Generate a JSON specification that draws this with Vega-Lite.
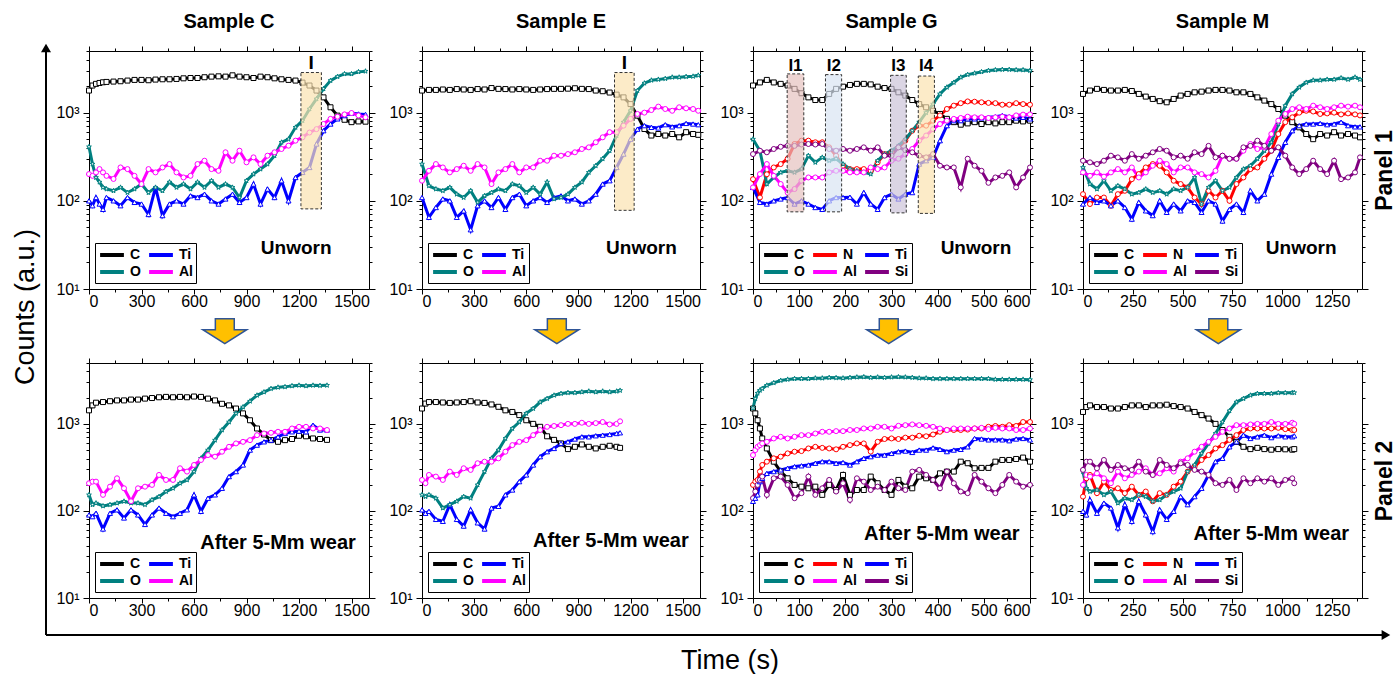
{
"$schema": "https://vega.github.io/schema/vega-lite/v6.json",
"background": "white",
"padding": {"left": 12, "top": 12, "right": 0, "bottom": 0},
"config": {
 "font": "Liberation Sans",
 "view": {"stroke": null},
 "axis": {"domainColor": "#000", "tickColor": "#000", "labelColor": "#000", "labelFontSize": 16, "labelFont": "Liberation Sans", "labelPadding": 4, "labelOverlap": false, "grid": false, "titleColor": "#000", "titleFont": "Liberation Sans", "domainWidth": 1, "tickWidth": 1},
 "axisBottom": {"labelPadding": -1},
 "legend": {"fillColor": "white", "strokeColor": "black", "padding": 3, "labelFontSize": 14, "labelFontWeight": "bold", "labelFont": "Liberation Sans", "labelColor": "#000", "labelOffset": 9, "columnPadding": 0, "rowPadding": 0, "symbolStrokeWidth": 4, "symbolOffset": 5},
 "title": {"fontSize": 20, "fontWeight": "bold", "font": "Liberation Sans", "color": "#000", "offset": 11, "anchor": "middle", "frame": "group"}
},
"datasets": {
"C1": [
{"t":0,"C":1780,"Ti":100,"O":410,"Al":201},{"t":20,"C":2030,"Ti":88,"O":261,"Al":192},{"t":40,"C":2120,"Ti":109,"O":184,"Al":210},{"t":60,"C":2170,"Ti":92,"O":163,"Al":229},{"t":80,"C":2210,"Ti":80,"O":142,"Al":210},{"t":100,"C":2230,"Ti":109,"O":136,"Al":192},{"t":140,"C":2250,"Ti":100,"O":130,"Al":177},{"t":180,"C":2270,"Ti":88,"O":142,"Al":239},{"t":220,"C":2310,"Ti":109,"O":124,"Al":229},{"t":260,"C":2350,"Ti":96,"O":136,"Al":192},{"t":300,"C":2350,"Ti":92,"O":155,"Al":155},{"t":340,"C":2330,"Ti":70,"O":124,"Al":229},{"t":380,"C":2370,"Ti":142,"O":142,"Al":210},{"t":420,"C":2390,"Ti":68,"O":130,"Al":239},{"t":460,"C":2390,"Ti":92,"O":163,"Al":261},{"t":500,"C":2410,"Ti":100,"O":142,"Al":210},{"t":540,"C":2450,"Ti":92,"O":155,"Al":184},{"t":580,"C":2470,"Ti":114,"O":136,"Al":192},{"t":620,"C":2470,"Ti":109,"O":163,"Al":261},{"t":660,"C":2520,"Ti":119,"O":142,"Al":285},{"t":700,"C":2560,"Ti":100,"O":169,"Al":229},{"t":740,"C":2580,"Ti":92,"O":142,"Al":219},{"t":780,"C":2560,"Ti":105,"O":155,"Al":355},{"t":820,"C":2650,"Ti":119,"O":142,"Al":285},{"t":860,"C":2560,"Ti":96,"O":109,"Al":370},{"t":900,"C":2520,"Ti":109,"O":169,"Al":273},{"t":940,"C":2470,"Ti":155,"O":201,"Al":311},{"t":980,"C":2560,"Ti":92,"O":229,"Al":261},{"t":1020,"C":2520,"Ti":136,"O":261,"Al":325},{"t":1060,"C":2450,"Ti":109,"O":325,"Al":355},{"t":1100,"C":2390,"Ti":169,"O":461,"Al":387},{"t":1140,"C":2350,"Ti":100,"O":500,"Al":422},{"t":1180,"C":2310,"Ti":184,"O":681,"Al":481},{"t":1220,"C":2190,"Ti":210,"O":811,"Al":525},{"t":1260,"C":2030,"Ti":239,"O":1100,"Al":595},{"t":1300,"C":1780,"Ti":441,"O":1430,"Al":650},{"t":1340,"C":1490,"Ti":624,"O":1860,"Al":743},{"t":1380,"C":1150,"Ti":743,"O":2310,"Al":850},{"t":1420,"C":925,"Ti":850,"O":2560,"Al":900},{"t":1460,"C":830,"Ti":925,"O":2750,"Al":955},{"t":1500,"C":780,"Ti":990,"O":2750,"Al":990},{"t":1540,"C":795,"Ti":966,"O":2900,"Al":930},{"t":1580,"C":790,"Ti":955,"O":2950,"Al":885}
],
"E1": [
{"t":0,"C":1780,"Ti":109,"O":261,"Al":169},{"t":40,"C":1810,"Ti":65,"O":148,"Al":219},{"t":80,"C":1810,"Ti":84,"O":136,"Al":261},{"t":120,"C":1830,"Ti":105,"O":130,"Al":239},{"t":160,"C":1810,"Ti":100,"O":142,"Al":210},{"t":200,"C":1850,"Ti":65,"O":119,"Al":229},{"t":240,"C":1830,"Ti":77,"O":109,"Al":250},{"t":280,"C":1810,"Ti":47,"O":130,"Al":219},{"t":320,"C":1850,"Ti":88,"O":96,"Al":261},{"t":360,"C":1830,"Ti":100,"O":114,"Al":239},{"t":400,"C":1900,"Ti":84,"O":124,"Al":155},{"t":440,"C":1860,"Ti":109,"O":136,"Al":210},{"t":480,"C":1850,"Ti":80,"O":130,"Al":229},{"t":520,"C":1830,"Ti":109,"O":155,"Al":261},{"t":560,"C":1850,"Ti":119,"O":148,"Al":210},{"t":600,"C":1830,"Ti":88,"O":124,"Al":239},{"t":640,"C":1810,"Ti":100,"O":142,"Al":239},{"t":680,"C":1830,"Ti":109,"O":119,"Al":285},{"t":720,"C":1850,"Ti":96,"O":163,"Al":285},{"t":760,"C":1860,"Ti":109,"O":105,"Al":325},{"t":800,"C":1860,"Ti":114,"O":109,"Al":325},{"t":840,"C":1870,"Ti":100,"O":119,"Al":339},{"t":880,"C":1890,"Ti":105,"O":142,"Al":355},{"t":920,"C":1860,"Ti":92,"O":163,"Al":387},{"t":960,"C":1850,"Ti":100,"O":210,"Al":404},{"t":1000,"C":1780,"Ti":119,"O":250,"Al":461},{"t":1040,"C":1750,"Ti":155,"O":300,"Al":525},{"t":1080,"C":1690,"Ti":169,"O":370,"Al":600},{"t":1120,"C":1600,"Ti":239,"O":550,"Al":600},{"t":1160,"C":1490,"Ti":339,"O":780,"Al":712},{"t":1200,"C":1250,"Ti":500,"O":1050,"Al":850},{"t":1240,"C":925,"Ti":650,"O":1780,"Al":966},{"t":1280,"C":652,"Ti":712,"O":2160,"Al":1000},{"t":1320,"C":550,"Ti":681,"O":2330,"Al":1070},{"t":1360,"C":572,"Ti":670,"O":2380,"Al":1170},{"t":1400,"C":550,"Ti":730,"O":2430,"Al":1100},{"t":1440,"C":572,"Ti":690,"O":2520,"Al":1050},{"t":1480,"C":525,"Ti":712,"O":2520,"Al":1150},{"t":1520,"C":600,"Ti":755,"O":2560,"Al":1120},{"t":1560,"C":572,"Ti":743,"O":2580,"Al":1100},{"t":1590,"C":560,"Ti":730,"O":2650,"Al":1050}
],
"G1": [
{"t":0,"C":2030,"N":176,"Ti":142,"O":500,"Al":142,"Si":339},{"t":15,"C":2200,"N":109,"Ti":96,"O":370,"Al":201,"Si":370},{"t":30,"C":2350,"N":200,"Ti":92,"O":155,"Al":261,"Si":355},{"t":45,"C":2200,"N":239,"Ti":100,"O":184,"Al":192,"Si":387},{"t":60,"C":2120,"N":261,"Ti":105,"O":210,"Al":155,"Si":410},{"t":75,"C":2030,"N":300,"Ti":109,"O":219,"Al":124,"Si":420},{"t":90,"C":1860,"N":441,"Ti":92,"O":210,"Al":136,"Si":420},{"t":105,"C":1660,"N":481,"Ti":100,"O":229,"Al":169,"Si":435},{"t":120,"C":1490,"N":481,"Ti":92,"O":325,"Al":184,"Si":441},{"t":135,"C":1390,"N":461,"Ti":84,"O":273,"Al":184,"Si":435},{"t":150,"C":1390,"N":461,"Ti":80,"O":311,"Al":184,"Si":441},{"t":165,"C":1630,"N":404,"Ti":100,"O":285,"Al":210,"Si":387},{"t":180,"C":1860,"N":325,"Ti":109,"O":300,"Al":219,"Si":370},{"t":195,"C":1970,"N":250,"Ti":109,"O":261,"Al":219,"Si":387},{"t":210,"C":2060,"N":229,"Ti":110,"O":229,"Al":210,"Si":370},{"t":225,"C":2120,"N":229,"Ti":92,"O":219,"Al":210,"Si":387},{"t":240,"C":2120,"N":229,"Ti":124,"O":210,"Al":210,"Si":404},{"t":255,"C":2090,"N":219,"Ti":92,"O":201,"Al":239,"Si":370},{"t":270,"C":1970,"N":273,"Ti":80,"O":285,"Al":229,"Si":404},{"t":285,"C":1900,"N":339,"Ti":109,"O":339,"Al":239,"Si":325},{"t":300,"C":1860,"N":355,"Ti":119,"O":370,"Al":285,"Si":325},{"t":315,"C":1700,"N":404,"Ti":105,"O":420,"Al":300,"Si":404},{"t":330,"C":1560,"N":481,"Ti":119,"O":500,"Al":339,"Si":375},{"t":345,"C":1390,"N":624,"Ti":124,"O":624,"Al":387,"Si":355},{"t":360,"C":1250,"N":712,"Ti":261,"O":780,"Al":481,"Si":325},{"t":375,"C":1150,"N":712,"Ti":285,"O":1000,"Al":550,"Si":311},{"t":390,"C":1050,"N":811,"Ti":311,"O":1250,"Al":650,"Si":339},{"t":405,"C":966,"N":930,"Ti":481,"O":1630,"Al":743,"Si":250},{"t":420,"C":850,"N":1100,"Ti":712,"O":1940,"Al":811,"Si":239},{"t":435,"C":780,"N":1200,"Ti":811,"O":2200,"Al":850,"Si":239},{"t":450,"C":730,"N":1280,"Ti":811,"O":2520,"Al":870,"Si":142},{"t":465,"C":755,"N":1340,"Ti":850,"O":2700,"Al":900,"Si":300},{"t":480,"C":780,"N":1330,"Ti":850,"O":2800,"Al":885,"Si":250},{"t":495,"C":743,"N":1310,"Ti":870,"O":2900,"Al":885,"Si":219},{"t":510,"C":780,"N":1290,"Ti":885,"O":3000,"Al":870,"Si":160},{"t":525,"C":755,"N":1280,"Ti":900,"O":3050,"Al":885,"Si":184},{"t":540,"C":780,"N":1230,"Ti":930,"O":3080,"Al":900,"Si":192},{"t":555,"C":780,"N":1230,"Ti":900,"O":3080,"Al":885,"Si":210},{"t":570,"C":811,"N":1280,"Ti":870,"O":3050,"Al":930,"Si":142},{"t":585,"C":795,"N":1250,"Ti":885,"O":3050,"Al":950,"Si":184},{"t":600,"C":811,"N":1230,"Ti":850,"O":3000,"Al":955,"Si":239}
],
"M1": [
{"t":0,"C":1630,"N":119,"Ti":92,"O":239,"Al":210,"Si":285},{"t":35,"C":1780,"N":92,"Ti":109,"O":155,"Al":192,"Si":273},{"t":70,"C":1860,"N":109,"Ti":96,"O":136,"Al":210,"Si":261},{"t":105,"C":1810,"N":109,"Ti":100,"O":169,"Al":188,"Si":285},{"t":140,"C":1780,"N":88,"Ti":88,"O":130,"Al":210,"Si":325},{"t":175,"C":1780,"N":119,"Ti":100,"O":148,"Al":229,"Si":311},{"t":210,"C":1810,"N":130,"Ti":84,"O":136,"Al":210,"Si":285},{"t":245,"C":1760,"N":176,"Ti":62,"O":119,"Al":239,"Si":339},{"t":280,"C":1630,"N":201,"Ti":96,"O":124,"Al":184,"Si":300},{"t":315,"C":1520,"N":239,"Ti":77,"O":136,"Al":210,"Si":325},{"t":350,"C":1430,"N":261,"Ti":68,"O":124,"Al":250,"Si":355},{"t":385,"C":1350,"N":250,"Ti":100,"O":130,"Al":285,"Si":387},{"t":420,"C":1310,"N":210,"Ti":74,"O":119,"Al":261,"Si":370},{"t":455,"C":1430,"N":169,"Ti":92,"O":136,"Al":210,"Si":311},{"t":490,"C":1560,"N":155,"Ti":77,"O":130,"Al":239,"Si":325},{"t":525,"C":1630,"N":142,"Ti":100,"O":142,"Al":239,"Si":300},{"t":560,"C":1700,"N":109,"Ti":96,"O":184,"Al":210,"Si":355},{"t":595,"C":1730,"N":92,"Ti":74,"O":92,"Al":201,"Si":339},{"t":630,"C":1780,"N":130,"Ti":100,"O":142,"Al":184,"Si":420},{"t":665,"C":1810,"N":109,"Ti":92,"O":169,"Al":219,"Si":311},{"t":700,"C":1810,"N":130,"Ti":59,"O":130,"Al":325,"Si":325},{"t":735,"C":1780,"N":100,"Ti":80,"O":142,"Al":300,"Si":300},{"t":770,"C":1700,"N":155,"Ti":92,"O":184,"Al":300,"Si":300},{"t":805,"C":1700,"N":184,"Ti":74,"O":229,"Al":370,"Si":404},{"t":840,"C":1630,"N":229,"Ti":130,"O":250,"Al":441,"Si":420},{"t":875,"C":1490,"N":239,"Ti":100,"O":300,"Al":387,"Si":481},{"t":910,"C":1370,"N":300,"Ti":119,"O":370,"Al":404,"Si":420},{"t":945,"C":1250,"N":370,"Ti":201,"O":461,"Al":572,"Si":370},{"t":980,"C":1100,"N":572,"Ti":311,"O":743,"Al":811,"Si":404},{"t":1015,"C":925,"N":780,"Ti":461,"O":1200,"Al":966,"Si":325},{"t":1050,"C":780,"N":885,"Ti":624,"O":1630,"Al":1100,"Si":239},{"t":1085,"C":681,"N":1000,"Ti":712,"O":1940,"Al":1150,"Si":201},{"t":1120,"C":572,"N":1050,"Ti":743,"O":2200,"Al":1100,"Si":229},{"t":1155,"C":500,"N":1030,"Ti":743,"O":2330,"Al":1200,"Si":285},{"t":1190,"C":572,"N":966,"Ti":755,"O":2330,"Al":1150,"Si":229},{"t":1225,"C":550,"N":980,"Ti":730,"O":2380,"Al":1100,"Si":201},{"t":1260,"C":600,"N":1000,"Ti":743,"O":2380,"Al":1150,"Si":285},{"t":1295,"C":550,"N":955,"Ti":780,"O":2470,"Al":1200,"Si":176},{"t":1330,"C":572,"N":980,"Ti":712,"O":2380,"Al":1170,"Si":184},{"t":1365,"C":550,"N":955,"Ti":690,"O":2520,"Al":1200,"Si":210},{"t":1390,"C":525,"N":930,"Ti":690,"O":2380,"Al":1150,"Si":311}
],
"C2": [
{"t":0,"C":1430,"Ti":90,"O":153,"Al":208},{"t":20,"C":1630,"Ti":86,"O":118,"Al":217},{"t":40,"C":1750,"Ti":94,"O":123,"Al":217},{"t":80,"C":1780,"Ti":62,"O":114,"Al":153},{"t":120,"C":1820,"Ti":94,"O":118,"Al":190},{"t":160,"C":1860,"Ti":103,"O":123,"Al":237},{"t":200,"C":1860,"Ti":83,"O":129,"Al":182},{"t":240,"C":1900,"Ti":103,"O":123,"Al":129},{"t":280,"C":1900,"Ti":90,"O":123,"Al":182},{"t":320,"C":1950,"Ti":70,"O":118,"Al":190},{"t":360,"C":1980,"Ti":90,"O":134,"Al":199},{"t":400,"C":2020,"Ti":108,"O":146,"Al":259},{"t":440,"C":2040,"Ti":94,"O":167,"Al":227},{"t":480,"C":2020,"Ti":86,"O":182,"Al":227},{"t":520,"C":2040,"Ti":94,"O":208,"Al":309},{"t":560,"C":2020,"Ti":103,"O":227,"Al":283},{"t":600,"C":2060,"Ti":153,"O":283,"Al":337},{"t":640,"C":2040,"Ti":99,"O":402,"Al":385},{"t":680,"C":1950,"Ti":140,"O":500,"Al":438},{"t":720,"C":1860,"Ti":153,"O":650,"Al":420},{"t":760,"C":1700,"Ti":182,"O":850,"Al":479},{"t":800,"C":1630,"Ti":248,"O":1050,"Al":545},{"t":840,"C":1500,"Ti":283,"O":1320,"Al":596},{"t":880,"C":1320,"Ti":337,"O":1560,"Al":622},{"t":920,"C":1100,"Ti":500,"O":1820,"Al":650},{"t":960,"C":885,"Ti":570,"O":2130,"Al":742},{"t":1000,"C":755,"Ti":622,"O":2320,"Al":775},{"t":1040,"C":650,"Ti":650,"O":2540,"Al":790},{"t":1080,"C":622,"Ti":710,"O":2630,"Al":811},{"t":1120,"C":650,"Ti":775,"O":2660,"Al":811},{"t":1160,"C":670,"Ti":811,"O":2730,"Al":885},{"t":1200,"C":730,"Ti":825,"O":2770,"Al":925},{"t":1240,"C":720,"Ti":811,"O":2730,"Al":925},{"t":1280,"C":680,"Ti":966,"O":2770,"Al":885},{"t":1320,"C":670,"Ti":850,"O":2750,"Al":885},{"t":1360,"C":655,"Ti":850,"O":2770,"Al":850}
],
"E2": [
{"t":0,"C":1500,"Ti":103,"O":153,"Al":227},{"t":20,"C":1710,"Ti":94,"O":146,"Al":208},{"t":40,"C":1780,"Ti":99,"O":153,"Al":259},{"t":80,"C":1780,"Ti":80,"O":140,"Al":248},{"t":120,"C":1760,"Ti":76,"O":108,"Al":227},{"t":160,"C":1740,"Ti":118,"O":118,"Al":283},{"t":200,"C":1760,"Ti":80,"O":129,"Al":259},{"t":240,"C":1780,"Ti":67,"O":146,"Al":309},{"t":280,"C":1820,"Ti":103,"O":140,"Al":296},{"t":320,"C":1760,"Ti":73,"O":199,"Al":353},{"t":360,"C":1740,"Ti":62,"O":283,"Al":368},{"t":400,"C":1670,"Ti":108,"O":402,"Al":368},{"t":440,"C":1570,"Ti":113,"O":500,"Al":402},{"t":480,"C":1430,"Ti":153,"O":680,"Al":479},{"t":520,"C":1370,"Ti":174,"O":885,"Al":570},{"t":560,"C":1260,"Ti":217,"O":1050,"Al":622},{"t":600,"C":1100,"Ti":259,"O":1320,"Al":650},{"t":640,"C":1000,"Ti":337,"O":1500,"Al":742},{"t":680,"C":925,"Ti":420,"O":1780,"Al":850},{"t":720,"C":720,"Ti":479,"O":1950,"Al":925},{"t":760,"C":655,"Ti":522,"O":2130,"Al":945},{"t":800,"C":596,"Ti":596,"O":2230,"Al":966},{"t":840,"C":513,"Ti":622,"O":2280,"Al":1000},{"t":880,"C":545,"Ti":670,"O":2280,"Al":1000},{"t":920,"C":580,"Ti":710,"O":2320,"Al":1030},{"t":960,"C":545,"Ti":710,"O":2370,"Al":1000},{"t":1000,"C":522,"Ti":730,"O":2320,"Al":1020},{"t":1040,"C":545,"Ti":742,"O":2370,"Al":1050},{"t":1080,"C":560,"Ti":755,"O":2320,"Al":985},{"t":1120,"C":545,"Ti":775,"O":2370,"Al":1000},{"t":1140,"C":530,"Ti":790,"O":2420,"Al":1070}
],
"G2": [
{"t":0,"C":1500,"N":199,"Ti":129,"O":1520,"Al":438,"Si":140},{"t":5,"C":1320,"N":217,"Ti":140,"O":1950,"Al":500,"Si":167},{"t":10,"C":1100,"N":227,"Ti":153,"O":2250,"Al":545,"Si":199},{"t":15,"C":885,"N":283,"Ti":217,"O":2430,"Al":570,"Si":227},{"t":20,"C":680,"N":337,"Ti":237,"O":2540,"Al":596,"Si":248},{"t":30,"C":522,"N":368,"Ti":270,"O":2770,"Al":622,"Si":153},{"t":45,"C":368,"N":402,"Ti":283,"O":2960,"Al":680,"Si":237},{"t":60,"C":283,"N":420,"Ti":296,"O":3150,"Al":710,"Si":248},{"t":75,"C":237,"N":458,"Ti":309,"O":3240,"Al":680,"Si":199},{"t":90,"C":199,"N":479,"Ti":323,"O":3300,"Al":710,"Si":140},{"t":105,"C":190,"N":487,"Ti":330,"O":3300,"Al":742,"Si":160},{"t":120,"C":182,"N":522,"Ti":337,"O":3300,"Al":742,"Si":248},{"t":135,"C":190,"N":545,"Ti":353,"O":3350,"Al":775,"Si":153},{"t":150,"C":153,"N":530,"Ti":368,"O":3350,"Al":811,"Si":182},{"t":165,"C":199,"N":522,"Ti":368,"O":3400,"Al":811,"Si":227},{"t":180,"C":174,"N":510,"Ti":353,"O":3380,"Al":825,"Si":167},{"t":195,"C":259,"N":545,"Ti":360,"O":3350,"Al":825,"Si":208},{"t":210,"C":153,"N":570,"Ti":337,"O":3400,"Al":850,"Si":134},{"t":225,"C":174,"N":596,"Ti":368,"O":3440,"Al":850,"Si":237},{"t":240,"C":174,"N":596,"Ti":402,"O":3460,"Al":885,"Si":217},{"t":255,"C":248,"N":480,"Ti":420,"O":3400,"Al":885,"Si":174},{"t":270,"C":208,"N":622,"Ti":438,"O":3440,"Al":925,"Si":190},{"t":285,"C":174,"N":670,"Ti":438,"O":3400,"Al":925,"Si":174},{"t":300,"C":153,"N":680,"Ti":458,"O":3440,"Al":885,"Si":217},{"t":315,"C":227,"N":670,"Ti":479,"O":3460,"Al":950,"Si":182},{"t":330,"C":190,"N":695,"Ti":487,"O":3440,"Al":966,"Si":174},{"t":345,"C":182,"N":695,"Ti":470,"O":3400,"Al":985,"Si":283},{"t":360,"C":248,"N":730,"Ti":500,"O":3350,"Al":966,"Si":296},{"t":375,"C":237,"N":720,"Ti":500,"O":3350,"Al":950,"Si":259},{"t":390,"C":227,"N":755,"Ti":530,"O":3300,"Al":925,"Si":227},{"t":405,"C":270,"N":811,"Ti":510,"O":3300,"Al":885,"Si":182},{"t":420,"C":283,"N":850,"Ti":480,"O":3300,"Al":850,"Si":283},{"t":435,"C":283,"N":850,"Ti":500,"O":3300,"Al":885,"Si":208},{"t":450,"C":368,"N":850,"Ti":510,"O":3300,"Al":885,"Si":167},{"t":465,"C":353,"N":860,"Ti":545,"O":3300,"Al":885,"Si":160},{"t":480,"C":309,"N":885,"Ti":680,"O":3300,"Al":885,"Si":259},{"t":495,"C":312,"N":885,"Ti":670,"O":3300,"Al":900,"Si":217},{"t":510,"C":312,"N":925,"Ti":655,"O":3300,"Al":870,"Si":182},{"t":525,"C":368,"N":945,"Ti":655,"O":3240,"Al":900,"Si":160},{"t":540,"C":385,"N":925,"Ti":655,"O":3240,"Al":885,"Si":199},{"t":555,"C":385,"N":966,"Ti":640,"O":3240,"Al":885,"Si":259},{"t":570,"C":395,"N":945,"Ti":670,"O":3240,"Al":850,"Si":217},{"t":585,"C":410,"N":1050,"Ti":680,"O":3240,"Al":850,"Si":190},{"t":600,"C":368,"N":1050,"Ti":655,"O":3220,"Al":885,"Si":199}
],
"M2": [
{"t":0,"C":1370,"N":146,"Ti":99,"O":283,"Al":199,"Si":296},{"t":17,"C":1560,"N":237,"Ti":90,"O":182,"Al":259,"Si":368},{"t":35,"C":1630,"N":259,"Ti":134,"O":167,"Al":248,"Si":368},{"t":70,"C":1560,"N":160,"Ti":94,"O":174,"Al":270,"Si":309},{"t":105,"C":1560,"N":217,"Ti":123,"O":153,"Al":237,"Si":385},{"t":140,"C":1500,"N":174,"Ti":108,"O":167,"Al":208,"Si":296},{"t":175,"C":1500,"N":182,"Ti":64,"O":123,"Al":283,"Si":337},{"t":210,"C":1560,"N":160,"Ti":118,"O":140,"Al":237,"Si":309},{"t":245,"C":1630,"N":190,"Ti":76,"O":134,"Al":259,"Si":296},{"t":280,"C":1630,"N":153,"Ti":129,"O":153,"Al":283,"Si":368},{"t":315,"C":1560,"N":167,"Ti":90,"O":146,"Al":309,"Si":283},{"t":350,"C":1630,"N":129,"Ti":58,"O":129,"Al":259,"Si":259},{"t":385,"C":1630,"N":160,"Ti":103,"O":134,"Al":270,"Si":385},{"t":420,"C":1660,"N":153,"Ti":80,"O":153,"Al":309,"Si":337},{"t":455,"C":1600,"N":190,"Ti":99,"O":167,"Al":283,"Si":309},{"t":490,"C":1560,"N":217,"Ti":146,"O":182,"Al":368,"Si":353},{"t":525,"C":1500,"N":283,"Ti":118,"O":283,"Al":402,"Si":337},{"t":560,"C":1370,"N":323,"Ti":146,"O":337,"Al":479,"Si":296},{"t":595,"C":1260,"N":385,"Ti":182,"O":458,"Al":545,"Si":283},{"t":630,"C":1150,"N":438,"Ti":259,"O":596,"Al":622,"Si":259},{"t":665,"C":1000,"N":522,"Ti":368,"O":775,"Al":710,"Si":208},{"t":700,"C":850,"N":570,"Ti":402,"O":1050,"Al":811,"Si":199},{"t":735,"C":710,"N":655,"Ti":545,"O":1410,"Al":885,"Si":227},{"t":770,"C":622,"N":742,"Ti":622,"O":1780,"Al":966,"Si":174},{"t":805,"C":545,"N":850,"Ti":742,"O":1950,"Al":966,"Si":237},{"t":840,"C":513,"N":885,"Ti":680,"O":2130,"Al":985,"Si":208},{"t":875,"C":530,"N":885,"Ti":710,"O":2230,"Al":1000,"Si":237},{"t":910,"C":513,"N":885,"Ti":742,"O":2230,"Al":1000,"Si":217},{"t":945,"C":505,"N":885,"Ti":695,"O":2230,"Al":1050,"Si":237},{"t":980,"C":513,"N":900,"Ti":730,"O":2270,"Al":1000,"Si":199},{"t":1015,"C":510,"N":870,"Ti":710,"O":2270,"Al":1000,"Si":227},{"t":1050,"C":505,"N":850,"Ti":710,"O":2280,"Al":1030,"Si":237},{"t":1060,"C":513,"N":850,"Ti":730,"O":2280,"Al":1000,"Si":208}
]
},
"columns": 4,
"spacing": {"row": 74, "column": 53},
"bounds": "flush",
"align": "each",
"resolve": {"scale": {"x": "independent", "y": "independent", "color": "independent", "fill": "independent", "shape": "independent"}, "axis": {"x": "independent", "y": "independent"}, "legend": {"color": "independent"}},
"concat": [
{
"width": 280, "height": 238,
"title": {"text": "Sample C"},
"resolve": {"axis": {"x": "independent", "y": "independent"}},
"layer": [
{"data": {"name": "C1"}, "transform": [{"fold": ["C","Ti","O","Al"], "as": ["el","val"]}],
 "mark": {"type": "line", "strokeWidth": 3},
 "encoding": {
  "x": {"field": "t", "type": "quantitative", "scale": {"domain": [0,1600], "nice": false, "zero": false}, "axis": {"orient": "bottom", "values": [0,150,300,450,600,750,900,1050,1200,1350,1500], "format": "d", "labelExpr": "datum.value % 300 == 0 ? datum.label : ''", "tickSize": {"condition": {"test": "datum.value % 300 == 0", "value": 5}, "value": 3}, "title": null}},
  "y": {"field": "val", "type": "quantitative", "scale": {"type": "log", "domain": [10,5000], "nice": false}, "axis": {"orient": "left", "values": [10,20,30,40,50,60,70,80,90,100,200,300,400,500,600,700,800,900,1000,2000,3000,4000,5000], "labelExpr": "datum.value == 10 ? '10¹' : datum.value == 100 ? '10²' : datum.value == 1000 ? '10³' : ''", "tickSize": {"condition": {"test": "datum.value == 10 || datum.value == 100 || datum.value == 1000", "value": 6}, "value": 3}, "minExtent": 30, "title": null}},
  "color": {"field": "el", "type": "nominal", "scale": {"domain": ["C","O","Ti","Al"], "range": ["#000000","#008080","#0000ff","#ff00ff"]}, "legend": {"title": null, "orient": "bottom-left", "columns": 2, "offset": 6, "symbolType": "M-1.7,0L1.7,0", "symbolStrokeWidth": 4, "symbolSize": 196, "symbolOffset": 5}}
 }},
{"data": {"name": "C1"}, "transform": [{"fold": ["C","Ti","O","Al"], "as": ["el","val"]}],
 "mark": {"type": "point", "filled": false, "fill": "white", "size": 25, "strokeWidth": 1, "opacity": 1},
 "encoding": {
  "x": {"field": "t", "type": "quantitative", "scale": {"domain": [0,1600], "nice": false, "zero": false}, "axis": {"orient": "top", "values": [0,150,300,450,600,750,900,1050,1200,1350,1500], "labels": false, "tickSize": {"condition": {"test": "datum.value % 300 == 0", "value": 5}, "value": 3}, "title": null}},
  "y": {"field": "val", "type": "quantitative", "scale": {"type": "log", "domain": [10,5000], "nice": false}, "axis": {"orient": "right", "values": [10,20,30,40,50,60,70,80,90,100,200,300,400,500,600,700,800,900,1000,2000,3000,4000,5000], "labels": false, "tickSize": {"condition": {"test": "datum.value == 10 || datum.value == 100 || datum.value == 1000", "value": 6}, "value": 3}, "minExtent": 0, "title": null}},
  "color": {"field": "el", "type": "nominal", "scale": {"domain": ["C","O","Ti","Al"], "range": ["#000000","#008080","#0000ff","#ff00ff"]}, "legend": {"title": null, "orient": "bottom-left", "columns": 2, "offset": 6, "symbolType": "M-1.7,0L1.7,0", "symbolStrokeWidth": 4, "symbolSize": 196, "symbolOffset": 5}},
  "shape": {"field": "el", "type": "nominal", "scale": {"domain": ["C","N","Ti","O","Al","Si"], "range": ["square","circle","triangle-up","M0,-1L0.2245,-0.309L0.951,-0.309L0.363,0.118L0.588,0.809L0,0.382L-0.588,0.809L-0.363,0.118L-0.951,-0.309L-0.2245,-0.309Z","circle","circle"]}, "legend": null}
 }},
{"data": {"values": [{"t1": 1211, "t2": 1328, "v1": 81, "v2": 2850}]},
 "mark": {"type": "rect", "fill": "#fbe2b0", "fillOpacity": 0.7, "stroke": "#333333", "strokeDash": [3,2], "strokeWidth": 1},
 "encoding": {"x": {"field": "t1", "type": "quantitative", "scale": {"domain": [0,1600], "nice": false, "zero": false}, "axis": null}, "x2": {"field": "t2"}, "y": {"field": "v1", "type": "quantitative", "scale": {"type": "log", "domain": [10,5000], "nice": false}, "axis": null}, "y2": {"field": "v2"}}},
{"data": {"values": [{"t": 1270, "v": 3700, "lab": "I"}, {"t": 1184, "v": 29, "lab": "Unworn"}]},
 "mark": {"type": "text", "fontSize": 19, "fontWeight": "bold", "color": "#000"},
 "encoding": {"x": {"field": "t", "type": "quantitative", "scale": {"domain": [0,1600], "nice": false, "zero": false}, "axis": null}, "y": {"field": "v", "type": "quantitative", "scale": {"type": "log", "domain": [10,5000], "nice": false}, "axis": null}, "text": {"field": "lab"}}}
]
},
{
"width": 278, "height": 238,
"title": {"text": "Sample E"},
"resolve": {"axis": {"x": "independent", "y": "independent"}},
"layer": [
{"data": {"name": "E1"}, "transform": [{"fold": ["C","Ti","O","Al"], "as": ["el","val"]}],
 "mark": {"type": "line", "strokeWidth": 3},
 "encoding": {
  "x": {"field": "t", "type": "quantitative", "scale": {"domain": [0,1600], "nice": false, "zero": false}, "axis": {"orient": "bottom", "values": [0,150,300,450,600,750,900,1050,1200,1350,1500], "format": "d", "labelExpr": "datum.value % 300 == 0 ? datum.label : ''", "tickSize": {"condition": {"test": "datum.value % 300 == 0", "value": 5}, "value": 3}, "title": null}},
  "y": {"field": "val", "type": "quantitative", "scale": {"type": "log", "domain": [10,5000], "nice": false}, "axis": {"orient": "left", "values": [10,20,30,40,50,60,70,80,90,100,200,300,400,500,600,700,800,900,1000,2000,3000,4000,5000], "labelExpr": "datum.value == 10 ? '10¹' : datum.value == 100 ? '10²' : datum.value == 1000 ? '10³' : ''", "tickSize": {"condition": {"test": "datum.value == 10 || datum.value == 100 || datum.value == 1000", "value": 6}, "value": 3}, "minExtent": 30, "title": null}},
  "color": {"field": "el", "type": "nominal", "scale": {"domain": ["C","O","Ti","Al"], "range": ["#000000","#008080","#0000ff","#ff00ff"]}, "legend": {"title": null, "orient": "bottom-left", "columns": 2, "offset": 6, "symbolType": "M-1.7,0L1.7,0", "symbolStrokeWidth": 4, "symbolSize": 196, "symbolOffset": 5}}
 }},
{"data": {"name": "E1"}, "transform": [{"fold": ["C","Ti","O","Al"], "as": ["el","val"]}],
 "mark": {"type": "point", "filled": false, "fill": "white", "size": 25, "strokeWidth": 1, "opacity": 1},
 "encoding": {
  "x": {"field": "t", "type": "quantitative", "scale": {"domain": [0,1600], "nice": false, "zero": false}, "axis": {"orient": "top", "values": [0,150,300,450,600,750,900,1050,1200,1350,1500], "labels": false, "tickSize": {"condition": {"test": "datum.value % 300 == 0", "value": 5}, "value": 3}, "title": null}},
  "y": {"field": "val", "type": "quantitative", "scale": {"type": "log", "domain": [10,5000], "nice": false}, "axis": {"orient": "right", "values": [10,20,30,40,50,60,70,80,90,100,200,300,400,500,600,700,800,900,1000,2000,3000,4000,5000], "labels": false, "tickSize": {"condition": {"test": "datum.value == 10 || datum.value == 100 || datum.value == 1000", "value": 6}, "value": 3}, "minExtent": 0, "title": null}},
  "color": {"field": "el", "type": "nominal", "scale": {"domain": ["C","O","Ti","Al"], "range": ["#000000","#008080","#0000ff","#ff00ff"]}, "legend": {"title": null, "orient": "bottom-left", "columns": 2, "offset": 6, "symbolType": "M-1.7,0L1.7,0", "symbolStrokeWidth": 4, "symbolSize": 196, "symbolOffset": 5}},
  "shape": {"field": "el", "type": "nominal", "scale": {"domain": ["C","N","Ti","O","Al","Si"], "range": ["square","circle","triangle-up","M0,-1L0.2245,-0.309L0.951,-0.309L0.363,0.118L0.588,0.809L0,0.382L-0.588,0.809L-0.363,0.118L-0.951,-0.309L-0.2245,-0.309Z","circle","circle"]}, "legend": null}
 }},
{"data": {"values": [{"t1": 1108, "t2": 1221, "v1": 78, "v2": 2850}]},
 "mark": {"type": "rect", "fill": "#fbe2b0", "fillOpacity": 0.7, "stroke": "#333333", "strokeDash": [3,2], "strokeWidth": 1},
 "encoding": {"x": {"field": "t1", "type": "quantitative", "scale": {"domain": [0,1600], "nice": false, "zero": false}, "axis": null}, "x2": {"field": "t2"}, "y": {"field": "v1", "type": "quantitative", "scale": {"type": "log", "domain": [10,5000], "nice": false}, "axis": null}, "y2": {"field": "v2"}}},
{"data": {"values": [{"t": 1165, "v": 3700, "lab": "I"}, {"t": 1263, "v": 29, "lab": "Unworn"}]},
 "mark": {"type": "text", "fontSize": 19, "fontWeight": "bold", "color": "#000"},
 "encoding": {"x": {"field": "t", "type": "quantitative", "scale": {"domain": [0,1600], "nice": false, "zero": false}, "axis": null}, "y": {"field": "v", "type": "quantitative", "scale": {"type": "log", "domain": [10,5000], "nice": false}, "axis": null}, "text": {"field": "lab"}}}
]
},
{
"width": 277, "height": 238,
"title": {"text": "Sample G"},
"resolve": {"axis": {"x": "independent", "y": "independent"}},
"layer": [
{"data": {"name": "G1"}, "transform": [{"fold": ["C","N","Ti","O","Al","Si"], "as": ["el","val"]}],
 "mark": {"type": "line", "strokeWidth": 3},
 "encoding": {
  "x": {"field": "t", "type": "quantitative", "scale": {"domain": [0,600], "nice": false, "zero": false}, "axis": {"orient": "bottom", "values": [0,50,100,150,200,250,300,350,400,450,500,550,600], "format": "d", "labelExpr": "datum.value % 100 == 0 ? datum.label : ''", "tickSize": {"condition": {"test": "datum.value % 100 == 0", "value": 5}, "value": 3}, "title": null}},
  "y": {"field": "val", "type": "quantitative", "scale": {"type": "log", "domain": [10,5000], "nice": false}, "axis": {"orient": "left", "values": [10,20,30,40,50,60,70,80,90,100,200,300,400,500,600,700,800,900,1000,2000,3000,4000,5000], "labelExpr": "datum.value == 10 ? '10¹' : datum.value == 100 ? '10²' : datum.value == 1000 ? '10³' : ''", "tickSize": {"condition": {"test": "datum.value == 10 || datum.value == 100 || datum.value == 1000", "value": 6}, "value": 3}, "minExtent": 30, "title": null}},
  "color": {"field": "el", "type": "nominal", "scale": {"domain": ["C","O","N","Al","Ti","Si"], "range": ["#000000","#008080","#ff0000","#ff00ff","#0000ff","#800080"]}, "legend": {"title": null, "orient": "bottom-left", "columns": 3, "offset": 6, "symbolType": "M-1.7,0L1.7,0", "symbolStrokeWidth": 4, "symbolSize": 196, "symbolOffset": 5}}
 }},
{"data": {"name": "G1"}, "transform": [{"fold": ["C","N","Ti","O","Al","Si"], "as": ["el","val"]}],
 "mark": {"type": "point", "filled": false, "fill": "white", "size": 25, "strokeWidth": 1, "opacity": 1},
 "encoding": {
  "x": {"field": "t", "type": "quantitative", "scale": {"domain": [0,600], "nice": false, "zero": false}, "axis": {"orient": "top", "values": [0,50,100,150,200,250,300,350,400,450,500,550,600], "labels": false, "tickSize": {"condition": {"test": "datum.value % 100 == 0", "value": 5}, "value": 3}, "title": null}},
  "y": {"field": "val", "type": "quantitative", "scale": {"type": "log", "domain": [10,5000], "nice": false}, "axis": {"orient": "right", "values": [10,20,30,40,50,60,70,80,90,100,200,300,400,500,600,700,800,900,1000,2000,3000,4000,5000], "labels": false, "tickSize": {"condition": {"test": "datum.value == 10 || datum.value == 100 || datum.value == 1000", "value": 6}, "value": 3}, "minExtent": 0, "title": null}},
  "color": {"field": "el", "type": "nominal", "scale": {"domain": ["C","O","N","Al","Ti","Si"], "range": ["#000000","#008080","#ff0000","#ff00ff","#0000ff","#800080"]}, "legend": {"title": null, "orient": "bottom-left", "columns": 3, "offset": 6, "symbolType": "M-1.7,0L1.7,0", "symbolStrokeWidth": 4, "symbolSize": 196, "symbolOffset": 5}},
  "shape": {"field": "el", "type": "nominal", "scale": {"domain": ["C","N","Ti","O","Al","Si"], "range": ["square","circle","triangle-up","M0,-1L0.2245,-0.309L0.951,-0.309L0.363,0.118L0.588,0.809L0,0.382L-0.588,0.809L-0.363,0.118L-0.951,-0.309L-0.2245,-0.309Z","circle","circle"]}, "legend": null}
 }},
{"data": {"values": [{"b": "I1", "t1": 74, "t2": 110, "v1": 75, "v2": 2750}, {"b": "I2", "t1": 157, "t2": 192, "v1": 75, "v2": 2700}, {"b": "I3", "t1": 298, "t2": 332, "v1": 73, "v2": 2650}, {"b": "I4", "t1": 358, "t2": 393, "v1": 72, "v2": 2600}]},
 "mark": {"type": "rect", "fillOpacity": 0.7, "stroke": "#333333", "strokeDash": [3,2], "strokeWidth": 1},
 "encoding": {"x": {"field": "t1", "type": "quantitative", "scale": {"domain": [0,600], "nice": false, "zero": false}, "axis": null}, "x2": {"field": "t2"}, "y": {"field": "v1", "type": "quantitative", "scale": {"type": "log", "domain": [10,5000], "nice": false}, "axis": null}, "y2": {"field": "v2"},
  "fill": {"field": "b", "type": "nominal", "scale": {"domain": ["I1","I2","I3","I4"], "range": ["#e6c2bf","#d9e4f2","#ccc3d8","#fbe2b0"]}, "legend": null}}},
{"data": {"values": [{"t": 92, "v": 3420, "lab": "I1"}, {"t": 175, "v": 3420, "lab": "I2"}, {"t": 315, "v": 3420, "lab": "I3"}, {"t": 375, "v": 3420, "lab": "I4"}]},
 "mark": {"type": "text", "fontSize": 17, "fontWeight": "bold", "color": "#000"},
 "encoding": {"x": {"field": "t", "type": "quantitative", "scale": {"domain": [0,600], "nice": false, "zero": false}, "axis": null}, "y": {"field": "v", "type": "quantitative", "scale": {"type": "log", "domain": [10,5000], "nice": false}, "axis": null}, "text": {"field": "lab"}}},
{"data": {"values": [{"t": 483, "v": 29, "lab": "Unworn"}]},
 "mark": {"type": "text", "fontSize": 19, "fontWeight": "bold", "color": "#000"},
 "encoding": {"x": {"field": "t", "type": "quantitative", "scale": {"domain": [0,600], "nice": false, "zero": false}, "axis": null}, "y": {"field": "v", "type": "quantitative", "scale": {"type": "log", "domain": [10,5000], "nice": false}, "axis": null}, "text": {"field": "lab"}}}
]
},
{
"width": 279, "height": 238,
"title": {"text": "Sample M"},
"resolve": {"axis": {"x": "independent", "y": "independent"}},
"layer": [
{"data": {"name": "M1"}, "transform": [{"fold": ["C","N","Ti","O","Al","Si"], "as": ["el","val"]}],
 "mark": {"type": "line", "strokeWidth": 3},
 "encoding": {
  "x": {"field": "t", "type": "quantitative", "scale": {"domain": [0,1400], "nice": false, "zero": false}, "axis": {"orient": "bottom", "values": [0,125,250,375,500,625,750,875,1000,1125,1250,1375], "format": "d", "labelExpr": "datum.value % 250 == 0 ? datum.label : ''", "tickSize": {"condition": {"test": "datum.value % 250 == 0", "value": 5}, "value": 3}, "title": null}},
  "y": {"field": "val", "type": "quantitative", "scale": {"type": "log", "domain": [10,5000], "nice": false}, "axis": {"orient": "left", "values": [10,20,30,40,50,60,70,80,90,100,200,300,400,500,600,700,800,900,1000,2000,3000,4000,5000], "labelExpr": "datum.value == 10 ? '10¹' : datum.value == 100 ? '10²' : datum.value == 1000 ? '10³' : ''", "tickSize": {"condition": {"test": "datum.value == 10 || datum.value == 100 || datum.value == 1000", "value": 6}, "value": 3}, "minExtent": 30, "title": null}},
  "color": {"field": "el", "type": "nominal", "scale": {"domain": ["C","O","N","Al","Ti","Si"], "range": ["#000000","#008080","#ff0000","#ff00ff","#0000ff","#800080"]}, "legend": {"title": null, "orient": "bottom-left", "columns": 3, "offset": 6, "symbolType": "M-1.7,0L1.7,0", "symbolStrokeWidth": 4, "symbolSize": 196, "symbolOffset": 5}}
 }},
{"data": {"name": "M1"}, "transform": [{"fold": ["C","N","Ti","O","Al","Si"], "as": ["el","val"]}],
 "mark": {"type": "point", "filled": false, "fill": "white", "size": 25, "strokeWidth": 1, "opacity": 1},
 "encoding": {
  "x": {"field": "t", "type": "quantitative", "scale": {"domain": [0,1400], "nice": false, "zero": false}, "axis": {"orient": "top", "values": [0,125,250,375,500,625,750,875,1000,1125,1250,1375], "labels": false, "tickSize": {"condition": {"test": "datum.value % 250 == 0", "value": 5}, "value": 3}, "title": null}},
  "y": {"field": "val", "type": "quantitative", "scale": {"type": "log", "domain": [10,5000], "nice": false}, "axis": {"orient": "right", "values": [10,20,30,40,50,60,70,80,90,100,200,300,400,500,600,700,800,900,1000,2000,3000,4000,5000], "labels": false, "tickSize": {"condition": {"test": "datum.value == 10 || datum.value == 100 || datum.value == 1000", "value": 6}, "value": 3}, "minExtent": 0, "title": "Panel 1", "titleAngle": 270, "titleBaseline": "top", "titleFontSize": 23, "titleFontWeight": "bold", "titlePadding": 5, "titleColor": "#000"}},
  "color": {"field": "el", "type": "nominal", "scale": {"domain": ["C","O","N","Al","Ti","Si"], "range": ["#000000","#008080","#ff0000","#ff00ff","#0000ff","#800080"]}, "legend": {"title": null, "orient": "bottom-left", "columns": 3, "offset": 6, "symbolType": "M-1.7,0L1.7,0", "symbolStrokeWidth": 4, "symbolSize": 196, "symbolOffset": 5}},
  "shape": {"field": "el", "type": "nominal", "scale": {"domain": ["C","N","Ti","O","Al","Si"], "range": ["square","circle","triangle-up","M0,-1L0.2245,-0.309L0.951,-0.309L0.363,0.118L0.588,0.809L0,0.382L-0.588,0.809L-0.363,0.118L-0.951,-0.309L-0.2245,-0.309Z","circle","circle"]}, "legend": null}
 }},
{"data": {"values": [{"t": 1095, "v": 29, "lab": "Unworn"}]},
 "mark": {"type": "text", "fontSize": 19, "fontWeight": "bold", "color": "#000"},
 "encoding": {"x": {"field": "t", "type": "quantitative", "scale": {"domain": [0,1400], "nice": false, "zero": false}, "axis": null}, "y": {"field": "v", "type": "quantitative", "scale": {"type": "log", "domain": [10,5000], "nice": false}, "axis": null}, "text": {"field": "lab"}}}
]
},
{
"width": 280, "height": 235,
"resolve": {"axis": {"x": "independent", "y": "independent"}},
"layer": [
{"data": {"name": "C2"}, "transform": [{"fold": ["C","Ti","O","Al"], "as": ["el","val"]}],
 "mark": {"type": "line", "strokeWidth": 3},
 "encoding": {
  "x": {"field": "t", "type": "quantitative", "scale": {"domain": [0,1600], "nice": false, "zero": false}, "axis": {"orient": "bottom", "values": [0,150,300,450,600,750,900,1050,1200,1350,1500], "format": "d", "labelExpr": "datum.value % 300 == 0 ? datum.label : ''", "tickSize": {"condition": {"test": "datum.value % 300 == 0", "value": 5}, "value": 3}, "title": null}},
  "y": {"field": "val", "type": "quantitative", "scale": {"type": "log", "domain": [10,5000], "nice": false}, "axis": {"orient": "left", "values": [10,20,30,40,50,60,70,80,90,100,200,300,400,500,600,700,800,900,1000,2000,3000,4000,5000], "labelExpr": "datum.value == 10 ? '10¹' : datum.value == 100 ? '10²' : datum.value == 1000 ? '10³' : ''", "tickSize": {"condition": {"test": "datum.value == 10 || datum.value == 100 || datum.value == 1000", "value": 6}, "value": 3}, "minExtent": 30, "title": null}},
  "color": {"field": "el", "type": "nominal", "scale": {"domain": ["C","O","Ti","Al"], "range": ["#000000","#008080","#0000ff","#ff00ff"]}, "legend": {"title": null, "orient": "bottom-left", "columns": 2, "offset": 6, "symbolType": "M-1.7,0L1.7,0", "symbolStrokeWidth": 4, "symbolSize": 196, "symbolOffset": 5}}
 }},
{"data": {"name": "C2"}, "transform": [{"fold": ["C","Ti","O","Al"], "as": ["el","val"]}],
 "mark": {"type": "point", "filled": false, "fill": "white", "size": 25, "strokeWidth": 1, "opacity": 1},
 "encoding": {
  "x": {"field": "t", "type": "quantitative", "scale": {"domain": [0,1600], "nice": false, "zero": false}, "axis": {"orient": "top", "values": [0,150,300,450,600,750,900,1050,1200,1350,1500], "labels": false, "tickSize": {"condition": {"test": "datum.value % 300 == 0", "value": 5}, "value": 3}, "title": null}},
  "y": {"field": "val", "type": "quantitative", "scale": {"type": "log", "domain": [10,5000], "nice": false}, "axis": {"orient": "right", "values": [10,20,30,40,50,60,70,80,90,100,200,300,400,500,600,700,800,900,1000,2000,3000,4000,5000], "labels": false, "tickSize": {"condition": {"test": "datum.value == 10 || datum.value == 100 || datum.value == 1000", "value": 6}, "value": 3}, "minExtent": 0, "title": null}},
  "color": {"field": "el", "type": "nominal", "scale": {"domain": ["C","O","Ti","Al"], "range": ["#000000","#008080","#0000ff","#ff00ff"]}, "legend": {"title": null, "orient": "bottom-left", "columns": 2, "offset": 6, "symbolType": "M-1.7,0L1.7,0", "symbolStrokeWidth": 4, "symbolSize": 196, "symbolOffset": 5}},
  "shape": {"field": "el", "type": "nominal", "scale": {"domain": ["C","N","Ti","O","Al","Si"], "range": ["square","circle","triangle-up","M0,-1L0.2245,-0.309L0.951,-0.309L0.363,0.118L0.588,0.809L0,0.382L-0.588,0.809L-0.363,0.118L-0.951,-0.309L-0.2245,-0.309Z","circle","circle"]}, "legend": null}
 }},
{"data": {"values": [{"t": 1080, "v": 42.5, "lab": "After 5-Mm wear"}]},
 "mark": {"type": "text", "fontSize": 20, "fontWeight": "bold", "color": "#000"},
 "encoding": {"x": {"field": "t", "type": "quantitative", "scale": {"domain": [0,1600], "nice": false, "zero": false}, "axis": null}, "y": {"field": "v", "type": "quantitative", "scale": {"type": "log", "domain": [10,5000], "nice": false}, "axis": null}, "text": {"field": "lab"}}},
{"data": {"values": [{"t": 776, "v": 11600}]},
 "mark": {"type": "point", "shape": "M-0.43,-0.57L0.43,-0.57L0.43,-0.07L1,-0.07L0,0.57L-1,-0.07L-0.43,-0.07Z", "size": 1936, "filled": true, "fill": "#ffc000", "stroke": "#2f5597", "strokeWidth": 1.5, "opacity": 1},
 "encoding": {"x": {"field": "t", "type": "quantitative", "scale": {"domain": [0,1600], "nice": false, "zero": false}, "axis": null}, "y": {"field": "v", "type": "quantitative", "scale": {"type": "log", "domain": [10,5000], "nice": false}, "axis": null}}},
{"data": {"values": [{"x1": -245.7, "x2": -245.7, "y1": 3.759, "y2": 19150000}, {"x1": -245.7, "x2": 7411, "y1": 3.759, "y2": 3.759}]},
 "mark": {"type": "rule", "color": "#000", "strokeWidth": 2},
 "encoding": {"x": {"field": "x1", "type": "quantitative", "scale": {"domain": [0,1600], "nice": false, "zero": false}, "axis": null}, "x2": {"field": "x2"}, "y": {"field": "y1", "type": "quantitative", "scale": {"type": "log", "domain": [10,5000], "nice": false}, "axis": null}, "y2": {"field": "y2"}}},
{"data": {"values": [{"t": -245.7, "v": 20750000}]},
 "mark": {"type": "point", "shape": "triangle-up", "filled": true, "color": "#000", "size": 100, "opacity": 1},
 "encoding": {"x": {"field": "t", "type": "quantitative", "scale": {"domain": [0,1600], "nice": false, "zero": false}, "axis": null}, "y": {"field": "v", "type": "quantitative", "scale": {"type": "log", "domain": [10,5000], "nice": false}, "axis": null}}},
{"data": {"values": [{"t": 7411, "v": 3.759}]},
 "mark": {"type": "point", "shape": "triangle-right", "filled": true, "color": "#000", "size": 100, "opacity": 1},
 "encoding": {"x": {"field": "t", "type": "quantitative", "scale": {"domain": [0,1600], "nice": false, "zero": false}, "axis": null}, "y": {"field": "v", "type": "quantitative", "scale": {"type": "log", "domain": [10,5000], "nice": false}, "axis": null}}},
{"data": {"values": [{"t": -360, "v": 21980, "lab": "Counts (a.u.)"}]},
 "mark": {"type": "text", "fontSize": 27, "angle": 270, "color": "#000", "align": "center", "baseline": "middle"},
 "encoding": {"x": {"field": "t", "type": "quantitative", "scale": {"domain": [0,1600], "nice": false, "zero": false}, "axis": null}, "y": {"field": "v", "type": "quantitative", "scale": {"type": "log", "domain": [10,5000], "nice": false}, "axis": null}, "text": {"field": "lab"}}},
{"data": {"values": [{"t": 3663, "v": 1.89, "lab": "Time (s)"}]},
 "mark": {"type": "text", "fontSize": 27, "color": "#000", "align": "center", "baseline": "middle"},
 "encoding": {"x": {"field": "t", "type": "quantitative", "scale": {"domain": [0,1600], "nice": false, "zero": false}, "axis": null}, "y": {"field": "v", "type": "quantitative", "scale": {"type": "log", "domain": [10,5000], "nice": false}, "axis": null}, "text": {"field": "lab"}}}
]
},
{
"width": 278, "height": 235,
"resolve": {"axis": {"x": "independent", "y": "independent"}},
"layer": [
{"data": {"name": "E2"}, "transform": [{"fold": ["C","Ti","O","Al"], "as": ["el","val"]}],
 "mark": {"type": "line", "strokeWidth": 3},
 "encoding": {
  "x": {"field": "t", "type": "quantitative", "scale": {"domain": [0,1600], "nice": false, "zero": false}, "axis": {"orient": "bottom", "values": [0,150,300,450,600,750,900,1050,1200,1350,1500], "format": "d", "labelExpr": "datum.value % 300 == 0 ? datum.label : ''", "tickSize": {"condition": {"test": "datum.value % 300 == 0", "value": 5}, "value": 3}, "title": null}},
  "y": {"field": "val", "type": "quantitative", "scale": {"type": "log", "domain": [10,5000], "nice": false}, "axis": {"orient": "left", "values": [10,20,30,40,50,60,70,80,90,100,200,300,400,500,600,700,800,900,1000,2000,3000,4000,5000], "labelExpr": "datum.value == 10 ? '10¹' : datum.value == 100 ? '10²' : datum.value == 1000 ? '10³' : ''", "tickSize": {"condition": {"test": "datum.value == 10 || datum.value == 100 || datum.value == 1000", "value": 6}, "value": 3}, "minExtent": 30, "title": null}},
  "color": {"field": "el", "type": "nominal", "scale": {"domain": ["C","O","Ti","Al"], "range": ["#000000","#008080","#0000ff","#ff00ff"]}, "legend": {"title": null, "orient": "bottom-left", "columns": 2, "offset": 6, "symbolType": "M-1.7,0L1.7,0", "symbolStrokeWidth": 4, "symbolSize": 196, "symbolOffset": 5}}
 }},
{"data": {"name": "E2"}, "transform": [{"fold": ["C","Ti","O","Al"], "as": ["el","val"]}],
 "mark": {"type": "point", "filled": false, "fill": "white", "size": 25, "strokeWidth": 1, "opacity": 1},
 "encoding": {
  "x": {"field": "t", "type": "quantitative", "scale": {"domain": [0,1600], "nice": false, "zero": false}, "axis": {"orient": "top", "values": [0,150,300,450,600,750,900,1050,1200,1350,1500], "labels": false, "tickSize": {"condition": {"test": "datum.value % 300 == 0", "value": 5}, "value": 3}, "title": null}},
  "y": {"field": "val", "type": "quantitative", "scale": {"type": "log", "domain": [10,5000], "nice": false}, "axis": {"orient": "right", "values": [10,20,30,40,50,60,70,80,90,100,200,300,400,500,600,700,800,900,1000,2000,3000,4000,5000], "labels": false, "tickSize": {"condition": {"test": "datum.value == 10 || datum.value == 100 || datum.value == 1000", "value": 6}, "value": 3}, "minExtent": 0, "title": null}},
  "color": {"field": "el", "type": "nominal", "scale": {"domain": ["C","O","Ti","Al"], "range": ["#000000","#008080","#0000ff","#ff00ff"]}, "legend": {"title": null, "orient": "bottom-left", "columns": 2, "offset": 6, "symbolType": "M-1.7,0L1.7,0", "symbolStrokeWidth": 4, "symbolSize": 196, "symbolOffset": 5}},
  "shape": {"field": "el", "type": "nominal", "scale": {"domain": ["C","N","Ti","O","Al","Si"], "range": ["square","circle","triangle-up","M0,-1L0.2245,-0.309L0.951,-0.309L0.363,0.118L0.588,0.809L0,0.382L-0.588,0.809L-0.363,0.118L-0.951,-0.309L-0.2245,-0.309Z","circle","circle"]}, "legend": null}
 }},
{"data": {"values": [{"t": 1087, "v": 44.6, "lab": "After 5-Mm wear"}]},
 "mark": {"type": "text", "fontSize": 20, "fontWeight": "bold", "color": "#000"},
 "encoding": {"x": {"field": "t", "type": "quantitative", "scale": {"domain": [0,1600], "nice": false, "zero": false}, "axis": null}, "y": {"field": "v", "type": "quantitative", "scale": {"type": "log", "domain": [10,5000], "nice": false}, "axis": null}, "text": {"field": "lab"}}},
{"data": {"values": [{"t": 776, "v": 11600}]},
 "mark": {"type": "point", "shape": "M-0.43,-0.57L0.43,-0.57L0.43,-0.07L1,-0.07L0,0.57L-1,-0.07L-0.43,-0.07Z", "size": 1936, "filled": true, "fill": "#ffc000", "stroke": "#2f5597", "strokeWidth": 1.5, "opacity": 1},
 "encoding": {"x": {"field": "t", "type": "quantitative", "scale": {"domain": [0,1600], "nice": false, "zero": false}, "axis": null}, "y": {"field": "v", "type": "quantitative", "scale": {"type": "log", "domain": [10,5000], "nice": false}, "axis": null}}}
]
},
{
"width": 277, "height": 235,
"resolve": {"axis": {"x": "independent", "y": "independent"}},
"layer": [
{"data": {"name": "G2"}, "transform": [{"fold": ["C","N","Ti","O","Al","Si"], "as": ["el","val"]}],
 "mark": {"type": "line", "strokeWidth": 3},
 "encoding": {
  "x": {"field": "t", "type": "quantitative", "scale": {"domain": [0,600], "nice": false, "zero": false}, "axis": {"orient": "bottom", "values": [0,50,100,150,200,250,300,350,400,450,500,550,600], "format": "d", "labelExpr": "datum.value % 100 == 0 ? datum.label : ''", "tickSize": {"condition": {"test": "datum.value % 100 == 0", "value": 5}, "value": 3}, "title": null}},
  "y": {"field": "val", "type": "quantitative", "scale": {"type": "log", "domain": [10,5000], "nice": false}, "axis": {"orient": "left", "values": [10,20,30,40,50,60,70,80,90,100,200,300,400,500,600,700,800,900,1000,2000,3000,4000,5000], "labelExpr": "datum.value == 10 ? '10¹' : datum.value == 100 ? '10²' : datum.value == 1000 ? '10³' : ''", "tickSize": {"condition": {"test": "datum.value == 10 || datum.value == 100 || datum.value == 1000", "value": 6}, "value": 3}, "minExtent": 30, "title": null}},
  "color": {"field": "el", "type": "nominal", "scale": {"domain": ["C","O","N","Al","Ti","Si"], "range": ["#000000","#008080","#ff0000","#ff00ff","#0000ff","#800080"]}, "legend": {"title": null, "orient": "bottom-left", "columns": 3, "offset": 6, "symbolType": "M-1.7,0L1.7,0", "symbolStrokeWidth": 4, "symbolSize": 196, "symbolOffset": 5}}
 }},
{"data": {"name": "G2"}, "transform": [{"fold": ["C","N","Ti","O","Al","Si"], "as": ["el","val"]}],
 "mark": {"type": "point", "filled": false, "fill": "white", "size": 25, "strokeWidth": 1, "opacity": 1},
 "encoding": {
  "x": {"field": "t", "type": "quantitative", "scale": {"domain": [0,600], "nice": false, "zero": false}, "axis": {"orient": "top", "values": [0,50,100,150,200,250,300,350,400,450,500,550,600], "labels": false, "tickSize": {"condition": {"test": "datum.value % 100 == 0", "value": 5}, "value": 3}, "title": null}},
  "y": {"field": "val", "type": "quantitative", "scale": {"type": "log", "domain": [10,5000], "nice": false}, "axis": {"orient": "right", "values": [10,20,30,40,50,60,70,80,90,100,200,300,400,500,600,700,800,900,1000,2000,3000,4000,5000], "labels": false, "tickSize": {"condition": {"test": "datum.value == 10 || datum.value == 100 || datum.value == 1000", "value": 6}, "value": 3}, "minExtent": 0, "title": null}},
  "color": {"field": "el", "type": "nominal", "scale": {"domain": ["C","O","N","Al","Ti","Si"], "range": ["#000000","#008080","#ff0000","#ff00ff","#0000ff","#800080"]}, "legend": {"title": null, "orient": "bottom-left", "columns": 3, "offset": 6, "symbolType": "M-1.7,0L1.7,0", "symbolStrokeWidth": 4, "symbolSize": 196, "symbolOffset": 5}},
  "shape": {"field": "el", "type": "nominal", "scale": {"domain": ["C","N","Ti","O","Al","Si"], "range": ["square","circle","triangle-up","M0,-1L0.2245,-0.309L0.951,-0.309L0.363,0.118L0.588,0.809L0,0.382L-0.588,0.809L-0.363,0.118L-0.951,-0.309L-0.2245,-0.309Z","circle","circle"]}, "legend": null}
 }},
{"data": {"values": [{"t": 409, "v": 54, "lab": "After 5-Mm wear"}]},
 "mark": {"type": "text", "fontSize": 20, "fontWeight": "bold", "color": "#000"},
 "encoding": {"x": {"field": "t", "type": "quantitative", "scale": {"domain": [0,600], "nice": false, "zero": false}, "axis": null}, "y": {"field": "v", "type": "quantitative", "scale": {"type": "log", "domain": [10,5000], "nice": false}, "axis": null}, "text": {"field": "lab"}}},
{"data": {"values": [{"t": 294, "v": 11600}]},
 "mark": {"type": "point", "shape": "M-0.43,-0.57L0.43,-0.57L0.43,-0.07L1,-0.07L0,0.57L-1,-0.07L-0.43,-0.07Z", "size": 1936, "filled": true, "fill": "#ffc000", "stroke": "#2f5597", "strokeWidth": 1.5, "opacity": 1},
 "encoding": {"x": {"field": "t", "type": "quantitative", "scale": {"domain": [0,600], "nice": false, "zero": false}, "axis": null}, "y": {"field": "v", "type": "quantitative", "scale": {"type": "log", "domain": [10,5000], "nice": false}, "axis": null}}}
]
},
{
"width": 279, "height": 235,
"resolve": {"axis": {"x": "independent", "y": "independent"}},
"layer": [
{"data": {"name": "M2"}, "transform": [{"fold": ["C","N","Ti","O","Al","Si"], "as": ["el","val"]}],
 "mark": {"type": "line", "strokeWidth": 3},
 "encoding": {
  "x": {"field": "t", "type": "quantitative", "scale": {"domain": [0,1400], "nice": false, "zero": false}, "axis": {"orient": "bottom", "values": [0,125,250,375,500,625,750,875,1000,1125,1250,1375], "format": "d", "labelExpr": "datum.value % 250 == 0 ? datum.label : ''", "tickSize": {"condition": {"test": "datum.value % 250 == 0", "value": 5}, "value": 3}, "title": null}},
  "y": {"field": "val", "type": "quantitative", "scale": {"type": "log", "domain": [10,5000], "nice": false}, "axis": {"orient": "left", "values": [10,20,30,40,50,60,70,80,90,100,200,300,400,500,600,700,800,900,1000,2000,3000,4000,5000], "labelExpr": "datum.value == 10 ? '10¹' : datum.value == 100 ? '10²' : datum.value == 1000 ? '10³' : ''", "tickSize": {"condition": {"test": "datum.value == 10 || datum.value == 100 || datum.value == 1000", "value": 6}, "value": 3}, "minExtent": 30, "title": null}},
  "color": {"field": "el", "type": "nominal", "scale": {"domain": ["C","O","N","Al","Ti","Si"], "range": ["#000000","#008080","#ff0000","#ff00ff","#0000ff","#800080"]}, "legend": {"title": null, "orient": "bottom-left", "columns": 3, "offset": 6, "symbolType": "M-1.7,0L1.7,0", "symbolStrokeWidth": 4, "symbolSize": 196, "symbolOffset": 5}}
 }},
{"data": {"name": "M2"}, "transform": [{"fold": ["C","N","Ti","O","Al","Si"], "as": ["el","val"]}],
 "mark": {"type": "point", "filled": false, "fill": "white", "size": 25, "strokeWidth": 1, "opacity": 1},
 "encoding": {
  "x": {"field": "t", "type": "quantitative", "scale": {"domain": [0,1400], "nice": false, "zero": false}, "axis": {"orient": "top", "values": [0,125,250,375,500,625,750,875,1000,1125,1250,1375], "labels": false, "tickSize": {"condition": {"test": "datum.value % 250 == 0", "value": 5}, "value": 3}, "title": null}},
  "y": {"field": "val", "type": "quantitative", "scale": {"type": "log", "domain": [10,5000], "nice": false}, "axis": {"orient": "right", "values": [10,20,30,40,50,60,70,80,90,100,200,300,400,500,600,700,800,900,1000,2000,3000,4000,5000], "labels": false, "tickSize": {"condition": {"test": "datum.value == 10 || datum.value == 100 || datum.value == 1000", "value": 6}, "value": 3}, "minExtent": 0, "title": "Panel 2", "titleAngle": 270, "titleBaseline": "top", "titleFontSize": 23, "titleFontWeight": "bold", "titlePadding": 5, "titleColor": "#000"}},
  "color": {"field": "el", "type": "nominal", "scale": {"domain": ["C","O","N","Al","Ti","Si"], "range": ["#000000","#008080","#ff0000","#ff00ff","#0000ff","#800080"]}, "legend": {"title": null, "orient": "bottom-left", "columns": 3, "offset": 6, "symbolType": "M-1.7,0L1.7,0", "symbolStrokeWidth": 4, "symbolSize": 196, "symbolOffset": 5}},
  "shape": {"field": "el", "type": "nominal", "scale": {"domain": ["C","N","Ti","O","Al","Si"], "range": ["square","circle","triangle-up","M0,-1L0.2245,-0.309L0.951,-0.309L0.363,0.118L0.588,0.809L0,0.382L-0.588,0.809L-0.363,0.118L-0.951,-0.309L-0.2245,-0.309Z","circle","circle"]}, "legend": null}
 }},
{"data": {"values": [{"t": 945, "v": 54, "lab": "After 5-Mm wear"}]},
 "mark": {"type": "text", "fontSize": 20, "fontWeight": "bold", "color": "#000"},
 "encoding": {"x": {"field": "t", "type": "quantitative", "scale": {"domain": [0,1400], "nice": false, "zero": false}, "axis": null}, "y": {"field": "v", "type": "quantitative", "scale": {"type": "log", "domain": [10,5000], "nice": false}, "axis": null}, "text": {"field": "lab"}}},
{"data": {"values": [{"t": 679, "v": 11600}]},
 "mark": {"type": "point", "shape": "M-0.43,-0.57L0.43,-0.57L0.43,-0.07L1,-0.07L0,0.57L-1,-0.07L-0.43,-0.07Z", "size": 1936, "filled": true, "fill": "#ffc000", "stroke": "#2f5597", "strokeWidth": 1.5, "opacity": 1},
 "encoding": {"x": {"field": "t", "type": "quantitative", "scale": {"domain": [0,1400], "nice": false, "zero": false}, "axis": null}, "y": {"field": "v", "type": "quantitative", "scale": {"type": "log", "domain": [10,5000], "nice": false}, "axis": null}}}
]
}
]
}
